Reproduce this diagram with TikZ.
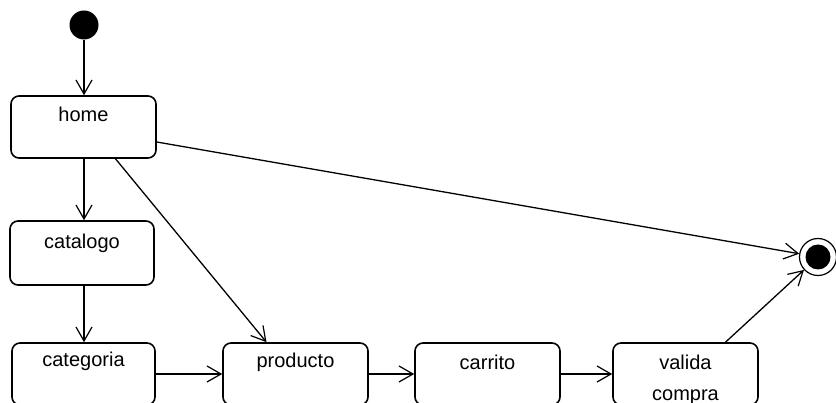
\documentclass[tikz,border=0pt]{standalone}
\usepackage{fontspec}
\setmainfont{Liberation Sans}
\usetikzlibrary{arrows.meta,calc}
\begin{document}
\begin{tikzpicture}[x=1pt,y=-1pt,
  statebox/.style={draw=black,line width=1.6pt,rounded corners=8pt,
    minimum width=145pt,minimum height=62pt,inner sep=0pt},
  lbl/.style={anchor=base,inner sep=0pt,font=\fontsize{20}{24}\selectfont},
  flow/.style={draw=black,line width=1.3pt,
    -{Straight Barb[length=14pt,width=16pt,line width=1.2pt]}}]
\useasboundingbox (0,0) rectangle (836,403);
\clip (0,0) rectangle (836,403);

% start and end states
\node[circle,fill=black,minimum size=29pt,inner sep=0pt] (init) at (84,25) {};
\node[circle,draw=black,line width=1.2pt,fill=white,minimum size=37pt,inner sep=0pt] (final) at (818,257) {};
\node[circle,fill=black,minimum size=25pt,inner sep=0pt] (finalin) at (final) {};

% states
\node[statebox] (home) at (83.5,127) {};
\node[statebox,minimum width=144pt,minimum height=64pt] (catalogo) at (82,253) {};
\node[statebox,minimum width=143pt] (categoria) at (83.5,374) {};
\node[statebox] (producto) at (295.5,374) {};
\node[statebox] (carrito) at (487.5,374) {};
\node[statebox] (valida) at (685.5,374) {};

% state names
\node[lbl] (homet) at ($(home.north)+(0,26)$) {home};
\node[lbl] (catalogot) at ($(catalogo.north)+(0,28)$) {catalogo};
\node[lbl] (categoriat) at ($(categoria.north)+(0,24)$) {categoria};
\node[lbl] (productot) at ($(producto.north)+(0,25)$) {producto};
\node[lbl] (carritot) at ($(carrito.north)+(0,27)$) {carrito};
\node[lbl] (validat) at ($(valida.north)+(0,27)$) {valida};
\node[lbl] (comprat) at ($(validat.base)+(0,31)$) {compra};

% transitions
\draw[flow] (init) -- (home.north -| init);
\draw[flow] ($(home.south)+(0.5,0)$) -- (catalogo.north -| 84,0);
\draw[flow] (catalogo.south -| 84,0) -- (categoria.north -| 84,0);
\draw[flow] ($(home.south)+(32,0)$) -- ($(producto.north)+(-29,0)$);
\draw[flow] ($(home.east)+(0,15)$) -- (final);
\draw[flow] ($(valida.north)+(40,0)$) -- (final);
\draw[flow] (categoria.east) -- (producto.west);
\draw[flow] (producto.east) -- (carrito.west);
\draw[flow] (carrito.east) -- (valida.west);
\end{tikzpicture}
\end{document}
